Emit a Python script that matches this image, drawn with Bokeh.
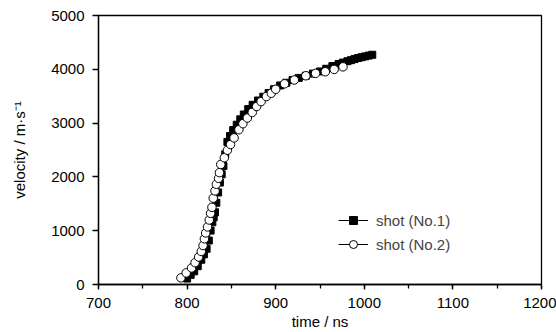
from bokeh.plotting import figure
from bokeh.models import Range1d, SingleIntervalTicker, Legend, LegendItem
from bokeh.embed import file_html
from bokeh.resources import INLINE

# shot (No.1) - filled squares
t1 = [800, 804, 808, 812, 816, 819, 822, 824.5, 826.5, 828.5, 830, 831.5, 833, 835, 837,
      839, 841, 843, 845.5, 848.5, 852, 856, 860, 864, 869, 874, 880, 886, 892, 898, 905,
      912, 919, 926, 934, 942, 950, 957, 964, 971, 976, 981, 985, 989, 993, 997, 1001,
      1005, 1009]
v1 = [110, 180, 245, 340, 460, 560, 664, 817, 1002, 1157, 1250, 1341, 1520, 1710, 1895,
      2048, 2201, 2420, 2650, 2760, 2870, 2970, 3070, 3160, 3260, 3340, 3420, 3490, 3560,
      3630, 3700, 3750, 3800, 3840, 3880, 3920, 3960, 4010, 4060, 4100, 4125, 4150, 4170,
      4190, 4210, 4225, 4240, 4255, 4270]

# shot (No.2) - open circles
t2 = [793, 799, 805, 809, 813, 816, 818, 819.5, 821, 823, 825, 826.5, 828, 829.5, 831.5,
      833, 835.5, 836.5, 838, 842, 845.5, 849, 853, 858.5, 863, 868, 873.5, 878.5, 883.5,
      889.5, 895, 900, 910, 921, 934, 945, 956, 966, 976]
v2 = [124, 216, 308, 406, 511, 614, 725, 849, 959, 1070, 1199, 1323, 1434, 1605, 1740,
      1863, 1974, 2079, 2232, 2356, 2496, 2601, 2725, 2878, 2989, 3094, 3198, 3308, 3400,
      3493, 3555, 3629, 3730, 3801, 3880, 3924, 3954, 3998, 4046]

series_names = ["shot (No.1)", "shot (No.2)"]
x_label = "time / ns"
y_label = "velocity / m·s⁻¹"

FONT = "Liberation Sans"

p = figure(width=556, height=332, x_range=Range1d(700, 1200), y_range=Range1d(0, 5000),
           output_backend="svg", toolbar_location=None,
           min_border_left=98, min_border_right=15, min_border_top=15, min_border_bottom=46)

p.background_fill_color = "white"
p.border_fill_color = "white"
p.outline_line_color = "black"
p.outline_line_width = 1.3
p.xgrid.visible = False
p.ygrid.visible = False

l1 = p.line(t1, v1, line_color="black", line_width=1)
s1 = p.scatter(t1, v1, marker="square", size=7, fill_color="black", line_color="black")
l2 = p.line(t2, v2, line_color="black", line_width=1)
s2 = p.scatter(t2, v2, marker="circle", size=8.5, fill_color="white", line_color="black",
               line_width=1)

p.xaxis.ticker = SingleIntervalTicker(interval=100, num_minor_ticks=2)
p.yaxis.ticker = SingleIntervalTicker(interval=1000, num_minor_ticks=0)

for ax in (p.xaxis[0], p.yaxis[0]):
    ax.axis_line_width = 1.3
    ax.axis_line_color = "black"
    ax.major_tick_line_color = "black"
    ax.major_tick_line_width = 1.3
    ax.major_tick_in = 0
    ax.major_label_text_font = FONT
    ax.major_label_text_font_size = "15px"
    ax.major_label_text_color = "black"
    ax.axis_label_text_font = FONT
    ax.axis_label_text_font_size = "15px"
    ax.axis_label_text_font_style = "normal"
    ax.axis_label_text_color = "black"

p.xaxis.major_tick_out = 5
p.xaxis.minor_tick_in = 0
p.xaxis.minor_tick_out = 4
p.xaxis.minor_tick_line_color = "black"
p.xaxis.minor_tick_line_width = 1.3
p.xaxis.major_label_standoff = 8
p.xaxis.axis_label = x_label
p.xaxis.axis_label_standoff = 2

p.yaxis.major_tick_out = 6
p.yaxis.minor_tick_line_color = None
p.yaxis.major_label_standoff = 8
p.yaxis.axis_label = y_label
p.yaxis.axis_label_standoff = 20

legend = Legend(items=[LegendItem(label=series_names[0], renderers=[l1, s1]),
                       LegendItem(label=series_names[1], renderers=[l2, s2])],
                location=(240, 30), padding=0, margin=0, spacing=4,
                glyph_width=30, glyph_height=20, label_height=20, label_standoff=8,
                label_text_font=FONT, label_text_font_size="15px",
                border_line_color=None, background_fill_alpha=0)
p.add_layout(legend)

open("out.html", "w").write(file_html(p, INLINE))
